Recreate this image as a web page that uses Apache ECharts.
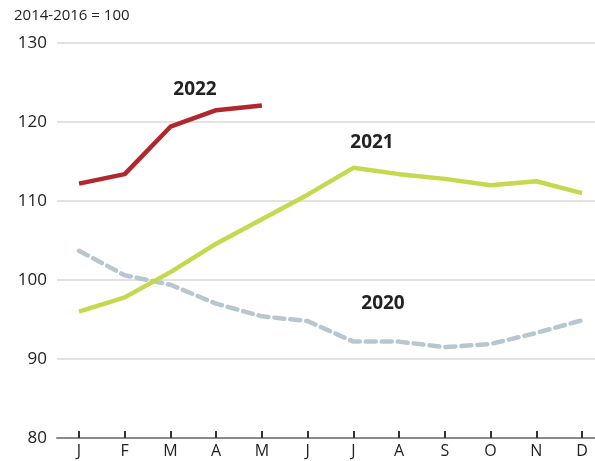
<!DOCTYPE html>
<html>
<head>
<meta charset="utf-8">
<style>
  html, body { margin: 0; padding: 0; background: #fff; }
  #chart { width: 595px; height: 461px; }
</style>
<script src="https://cdn.jsdelivr.net/npm/echarts@6/dist/echarts.min.js"></script>
</head>
<body>
<div id="chart"></div>
<script>
// month initials on the x axis
const months = ['J', 'F', 'M', 'A', 'M', 'J', 'J', 'A', 'S', 'O', 'N', 'D']

// index values, 2014-2016 = 100
const y2020 = [103.7, 100.6, 99.4, 97.0, 95.4, 94.8, 92.2, 92.2, 91.5, 91.9, 93.3, 94.9]
const y2021 = [96.0, 97.8, 101.0, 104.6, 107.7, 110.8, 114.2, 113.4, 112.8, 112.0, 112.5, 111.0]
const y2022 = [112.2, 113.4, 119.4, 121.5, 122.1]

const font = 'Open Sans'
const chart = echarts.init(document.getElementById('chart'))

chart.setOption({
  animation: false,
  textStyle: { fontFamily: font },
  grid: [
    // wide grid: horizontal gridlines and baseline
    { left: 57, right: 0, top: 43, bottom: 23 },
    // inner grid: months and lines
    { left: 79, right: 13, top: 43, bottom: 23 }
  ],
  xAxis: [
    {
      gridIndex: 0,
      type: 'value',
      min: 0,
      max: 1,
      axisLabel: { show: false },
      axisTick: { show: false },
      splitLine: { show: false },
      axisLine: { show: true, lineStyle: { color: '#8a8a8a', width: 2 } }
    },
    {
      gridIndex: 1,
      type: 'category',
      data: months,
      boundaryGap: false,
      axisLine: { show: false },
      axisTick: {
        show: true,
        inside: true,
        length: 7,
        alignWithLabel: true,
        lineStyle: { color: '#333', width: 2 }
      },
      axisLabel: { color: '#222', fontSize: 16, margin: 5, interval: 0 }
    }
  ],
  yAxis: [
    {
      gridIndex: 0,
      type: 'value',
      min: 80,
      max: 130,
      interval: 10,
      axisLine: { show: false },
      axisTick: { show: false },
      axisLabel: { color: '#222', fontSize: 17, margin: 10 },
      splitLine: { lineStyle: { color: '#d9d9d9', width: 1.5 } }
    },
    {
      gridIndex: 1,
      type: 'value',
      min: 80,
      max: 130,
      interval: 10,
      show: false,
      splitLine: { show: false }
    }
  ],
  series: [
    {
      name: '2020',
      type: 'line',
      xAxisIndex: 1,
      yAxisIndex: 1,
      data: y2020,
      symbol: 'none',
      lineStyle: { color: '#b8c6d0', width: 4.5, type: [10, 6], cap: 'round' }
    },
    {
      name: '2021',
      type: 'line',
      xAxisIndex: 1,
      yAxisIndex: 1,
      data: y2021,
      symbol: 'none',
      lineStyle: { color: '#c5d84e', width: 4.5 }
    },
    {
      name: '2022',
      type: 'line',
      xAxisIndex: 1,
      yAxisIndex: 1,
      data: y2022,
      symbol: 'none',
      lineStyle: { color: '#b0282e', width: 4.5 }
    }
  ],
  graphic: [
    {
      type: 'text',
      left: 14,
      top: 8,
      style: { text: '2014-2016 = 100', font: '15px "Open Sans"', fill: '#222' }
    },
    {
      type: 'text',
      x: 195,
      y: 90,
      style: { text: '2022', font: 'bold 19px "Open Sans"', fill: '#222', align: 'center', verticalAlign: 'middle' }
    },
    {
      type: 'text',
      x: 372,
      y: 143,
      style: { text: '2021', font: 'bold 19px "Open Sans"', fill: '#222', align: 'center', verticalAlign: 'middle' }
    },
    {
      type: 'text',
      x: 383,
      y: 304,
      style: { text: '2020', font: 'bold 19px "Open Sans"', fill: '#222', align: 'center', verticalAlign: 'middle' }
    }
  ]
})
</script>
</body>
</html>
